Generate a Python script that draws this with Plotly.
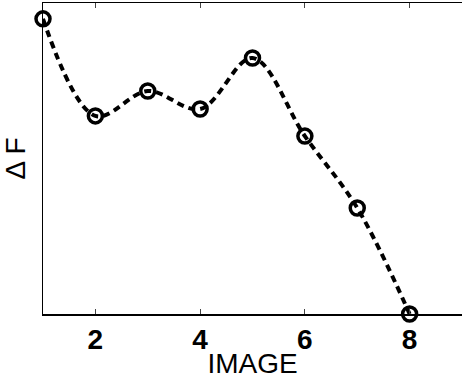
import plotly.graph_objects as go

image = [1, 2, 3, 4, 5, 6, 7, 8]
delta_f = [0.949, 0.637, 0.717, 0.659, 0.823, 0.572, 0.341, 0.0]
x_ticks = [2, 4, 6, 8]
x_tick_labels = ["2", "4", "6", "8"]

fig = go.Figure()
fig.add_trace(go.Scatter(
    x=image, y=delta_f,
    mode="lines+markers",
    line=dict(color="black", width=4, dash="7px,5px", shape="spline", smoothing=1.0),
    marker=dict(symbol="circle-open", size=14, color="black", line=dict(width=3.5, color="black")),
    cliponaxis=False,
    showlegend=False,
    hoverinfo="skip",
))

fig.update_layout(
    width=462, height=379,
    margin=dict(l=43, r=0, t=3, b=65, autoexpand=False),
    paper_bgcolor="white", plot_bgcolor="white",
    font=dict(family="Liberation Sans, Arial, sans-serif", color="black"),
    xaxis=dict(
        range=[1, 9], tickvals=x_ticks, ticktext=x_tick_labels,
        tickfont=dict(size=28, family="Liberation Sans, Arial, sans-serif", weight="bold"),
        ticks="inside", ticklen=5, tickcolor="#444", tickwidth=1,
        showline=True, linecolor="black", linewidth=1.5, mirror="ticks",
        showgrid=False, zeroline=False, automargin=False,
        title=dict(text="IMAGE", font=dict(size=28), standoff=0),
    ),
    yaxis=dict(
        range=[0, 1], showticklabels=False, ticks="",
        showline=True, linecolor="black", linewidth=1.5, mirror=False,
        showgrid=False, zeroline=False, automargin=False,
        title=dict(text="Δ F", font=dict(size=28), standoff=8),
    ),
)

fig.write_html(
    "out.html",
    config={"displayModeBar": False, "staticPlot": True},
    post_script="document.body.style.margin='0';document.body.style.overflow='hidden';",
)
